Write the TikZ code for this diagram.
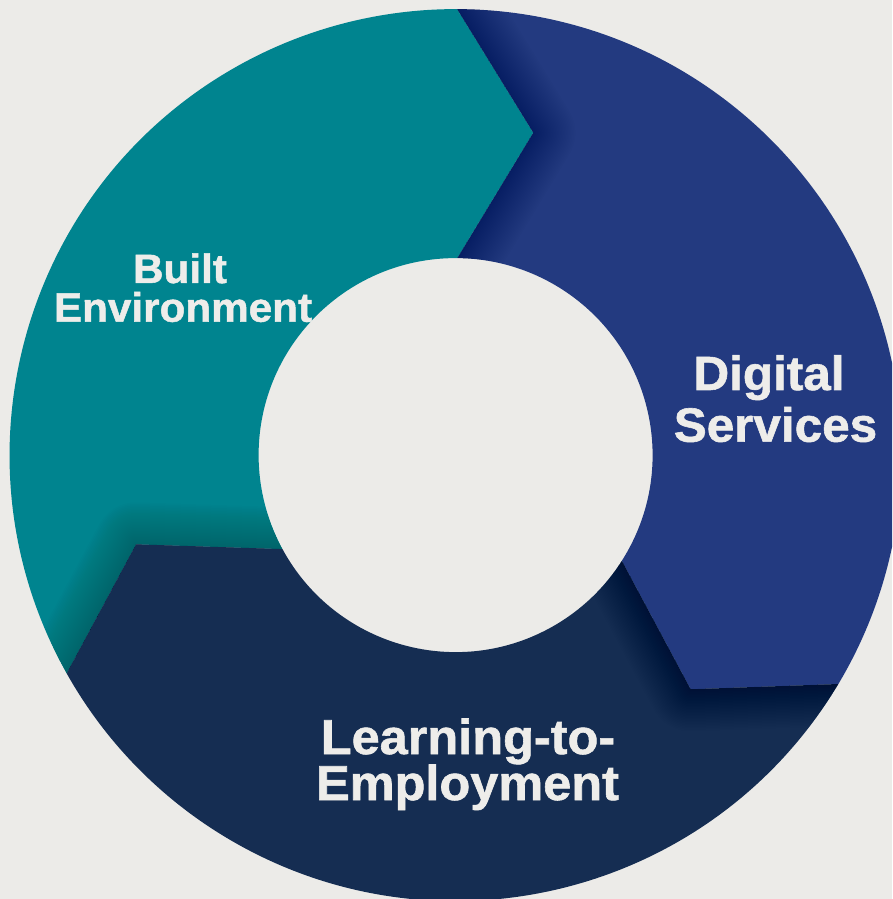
\documentclass[tikz,border=0pt]{standalone}
\usepackage{fontspec}
\newfontfamily\labelfont{Liberation Sans}[FakeStretch=1.03,FakeBold=1.2]
\definecolor{bgc}{HTML}{ECEBE8}
\definecolor{tealseg}{RGB}{0,132,143}
\definecolor{blueseg}{RGB}{35,58,128}
\definecolor{navyseg}{RGB}{21,45,82}
\definecolor{labeltext}{HTML}{EEEDEA}
% outlines of the three arrow-shaped ring segments
\newcommand{\tealoutline}{(o3) arc[start angle=209.3, end angle=89.8, radius=446] -- (t1) -- (i1) arc[start angle=89.5, end angle=208.5, radius=197] -- (t3) -- cycle}
\newcommand{\blueoutline}{(o1) arc[start angle=89.8, end angle=-30.88, radius=446] -- (t2) -- (i2) arc[start angle=-32.45, end angle=89.5, radius=197] -- (t1) -- cycle}
\newcommand{\navyoutline}{(o2) arc[start angle=-30.88, end angle=-150.7, radius=446] -- (t3) -- (i3) arc[start angle=-151.5, end angle=-32.45, radius=197] -- (t2) -- cycle}
\begin{document}
\begin{tikzpicture}[x=1pt,y=1pt,
  seglabel/.style={anchor=base, inner sep=0pt, text=labeltext, font=\labelfont\bfseries},
  headshadow/.style={draw=black, opacity=0.008, line join=round, line width=#1}]
\useasboundingbox (-455.6,-443.9) rectangle (436.4,455.1);
\clip (-455.6,-443.9) rectangle (436.4,455.1);
\fill[bgc] (-455.6,-443.9) rectangle (436.4,455.1);

% segment boundaries: outer point, arrow tip, inner point
\coordinate (o1) at (89.8:446);   \coordinate (t1) at (76.45:331.6); \coordinate (i1) at (89.5:197);
\coordinate (o2) at (-30.88:446); \coordinate (t2) at (-44.89:331.8); \coordinate (i2) at (-32.45:197);
\coordinate (o3) at (209.3:446);  \coordinate (t3) at (195.6:331.8); \coordinate (i3) at (208.5:197);

% ring segments
\fill[tealseg] \tealoutline;
\fill[blueseg] \blueoutline;
\fill[navyseg] \navyoutline;

% soft shadows cast by each arrow head onto the following segment
\begin{scope}
  \clip \blueoutline;
  \foreach \w in {3,6,...,84} \draw[headshadow=\w pt] (o1) -- (t1) -- (i1);
\end{scope}
\begin{scope}
  \clip \navyoutline;
  \foreach \w in {3,6,...,84} \draw[headshadow=\w pt] (o2) -- (t2) -- (i2);
\end{scope}
\begin{scope}
  \clip \tealoutline;
  \foreach \w in {3,6,...,84} \draw[headshadow=\w pt] (o3) -- (t3) -- (i3);
\end{scope}

% labels
\node[seglabel, font=\labelfont\bfseries\fontsize{41}{41}\selectfont] (be1) at (-275.6,172.1) {Built};
\node[seglabel, font=\labelfont\bfseries\fontsize{41}{41}\selectfont] (be2) at (-272.6,133.4) {Environment};
\node[seglabel, font=\labelfont\bfseries\fontsize{48}{48}\selectfont] (ds1) at (313.4,65.1) {Digital};
\node[seglabel, font=\labelfont\bfseries\fontsize{48}{48}\selectfont] (ds2) at (319.9,13.4) {Services};
\node[seglabel, font=\labelfont\bfseries\fontsize{49}{49}\selectfont] (le1) at (12.4,-298.9) {Learning-to-};
\node[seglabel, font=\labelfont\bfseries\fontsize{49}{49}\selectfont] (le2) at (11.9,-344.9) {Employment};
\end{tikzpicture}
\end{document}
